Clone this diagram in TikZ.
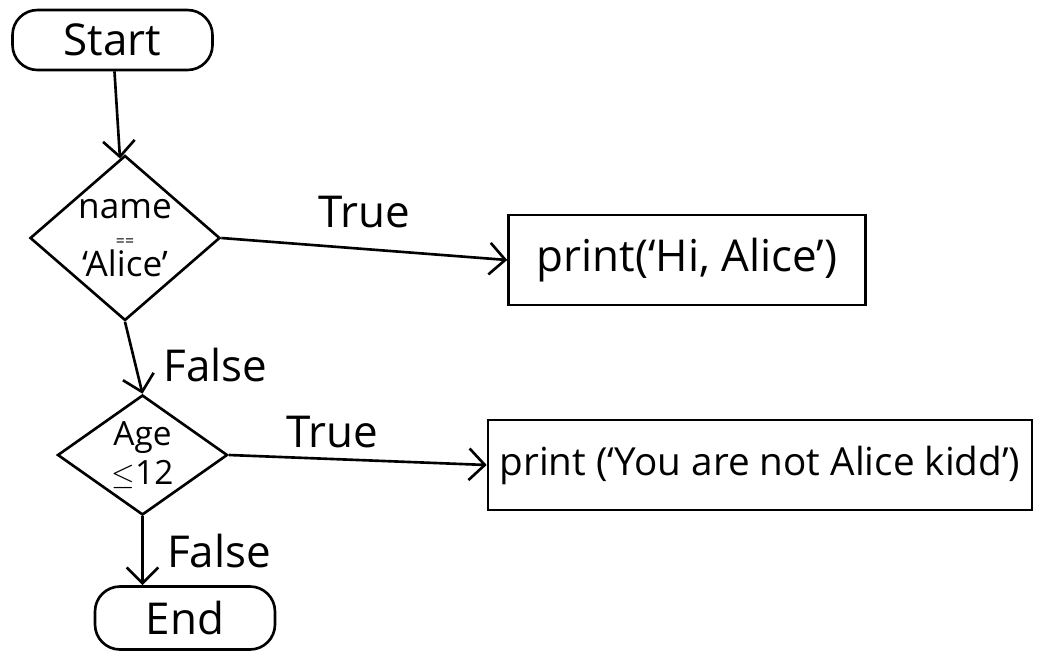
\documentclass[tikz,border=0pt]{standalone}
\usepackage{fontspec}
\setmainfont{Open Sans}
\usetikzlibrary{positioning,shapes.geometric,arrows.meta}

\begin{document}
\begin{tikzpicture}[
  line width=1.5pt,
  >={Straight Barb[length=9pt,width=18pt]},
  font=\fontsize{25}{28}\selectfont,
  term/.style={rectangle, draw, rounded corners=0.5cm, minimum width=4cm, minimum height=1.2cm},
  decision/.style={diamond, draw, inner sep=-8pt, align=center, font=\fontsize{20}{20}\selectfont},
  box/.style={rectangle, draw, minimum height=1.8cm},
]
\useasboundingbox (0,0) rectangle (20.74,-13.1);
\node[term] (start) at (2.25,-0.8) {Start};
\node[decision, minimum width=3.8cm, minimum height=3.3cm] (name) at (2.5,-4.76)
  {name\\[-4pt]{\small ==}\\[-3pt]`Alice'};
\node[box, minimum width=7.14cm] (hi) at (13.74,-5.2) {print(`Hi, Alice')};
\node[decision, minimum width=3.4cm, minimum height=2.4cm, font=\fontsize{19}{18}\selectfont]
  (age) at (2.85,-9.1) {Age\\[3pt]$\leq$12};
\node[box, minimum width=10.88cm, font=\fontsize{22}{26}\selectfont] (kid) at (15.2,-9.3)
  {print (`You are not Alice kidd')};
\node[term, minimum width=3.6cm, minimum height=1.26cm] (end) at (3.7,-12.36) {End};
\draw[->] (start) -- (name);
\draw[->] (name.east) -- node[above=8pt] {True} (hi.west);
\draw[->] (name.south) -- node[right=12pt, pos=0.6] {False} (age.north);
\draw[->] (age.east) -- node[above=2pt, pos=0.4] {True} (kid.west);
\draw[->] (age.south) -- node[right=10pt, pos=0.5] {False} (age.south |- end.north);
\end{tikzpicture}
\end{document}
